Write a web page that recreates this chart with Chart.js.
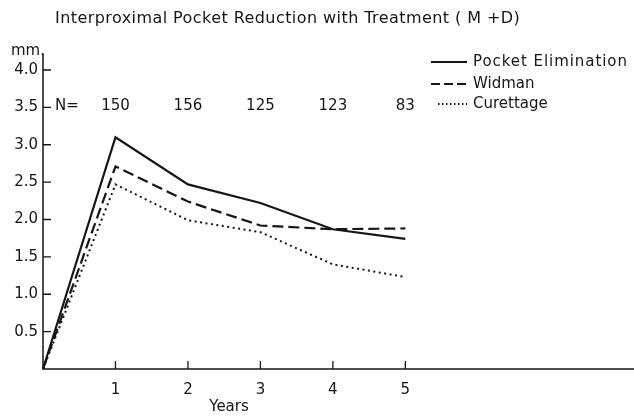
<!DOCTYPE html>
<html>
<head>
<meta charset="utf-8">
<script src="https://cdn.jsdelivr.net/npm/chart.js@4.4.0/dist/chart.umd.min.js"></script>
<style>
  html, body { margin: 0; padding: 0; background: #fff; }
  canvas { display: block; }
</style>
</head>
<body>
<canvas id="myChart" width="634" height="416"></canvas>
<script>
const years = [0, 1, 2, 3, 4, 5];
const pocketElimination = [0, 3.10, 2.47, 2.22, 1.87, 1.74];
const widman = [0, 2.71, 2.24, 1.92, 1.87, 1.88];
const curettage = [0, 2.47, 1.99, 1.83, 1.40, 1.23];
const sampleSizes = [150, 156, 125, 123, 83];
const seriesNames = ['Pocket Elimination', 'Widman', 'Curettage'];
const titleText = 'Interproximal Pocket Reduction with Treatment ( M +D)';

const INK = '#161616';
const FAMILY = "'DejaVu Sans', sans-serif";
const font = (size) => `${size}px ${FAMILY}`;

const toPoints = (values) => values.map((v, i) => ({ x: years[i], y: v }));

// estilos de línea: continua, rayas, puntos
const styles = [
    { width: 2.2, dash: [], legendDash: [] },
    { width: 2.2, dash: [11, 5], legendDash: [9, 4] },
    { width: 2, dash: [2, 3.5], legendDash: [1.5, 2.5] }
];

// texto estirado a un ancho dado (el original va muy espaciado)
const fitText = (c, text, x, y, width) => {
    c.letterSpacing = '0px';
    const w = c.measureText(text).width;
    const extra = Math.max(0, (width - w) / (text.length - 1));
    c.letterSpacing = extra.toFixed(2) + 'px';
    c.fillText(text, x, y);
    c.letterSpacing = '0px';
};

const decor = {
    id: 'decor',
    afterDraw(chart) {
        const c = chart.ctx;
        const { left, bottom } = chart.chartArea;
        const xs = chart.scales.x, ys = chart.scales.y;
        c.save();

        // ejes
        c.strokeStyle = INK;
        c.lineWidth = 1.5;
        c.beginPath();
        c.moveTo(left, 54);
        c.lineTo(left, bottom);
        c.lineTo(chart.width, bottom);
        c.stroke();

        // marcas hacia dentro
        c.lineWidth = 1.3;
        c.beginPath();
        for (let v = 0.5; v <= 4.0001; v += 0.5) {
            const py = ys.getPixelForValue(v);
            c.moveTo(left, py);
            c.lineTo(left + 8, py);
        }
        for (let i = 1; i < years.length; i++) {
            const px = xs.getPixelForValue(years[i]);
            c.moveTo(px, bottom);
            c.lineTo(px, bottom - 8);
        }
        c.stroke();

        c.fillStyle = INK;
        c.textBaseline = 'middle';
        c.textAlign = 'left';
        c.font = font(16);
        fitText(c, titleText, 55, 19, 465);

        c.font = font(15);
        c.fillText('mm.', 11, 51);

        c.textAlign = 'center';
        c.fillText('Years', 229, 407);

        // fila de N
        const ny = ys.getPixelForValue(3.5) - 1;
        c.textAlign = 'left';
        c.fillText('N=', 55, ny);
        c.textAlign = 'center';
        sampleSizes.forEach((n, i) => {
            c.fillText(String(n), xs.getPixelForValue(years[i + 1]), ny);
        });

        // leyenda
        const rows = [62, 84, 104];
        c.font = font(15);
        seriesNames.forEach((name, i) => {
            c.strokeStyle = INK;
            c.lineWidth = styles[i].width;
            c.setLineDash(styles[i].legendDash);
            c.beginPath();
            c.moveTo(i === 2 ? 438 : 431, rows[i]);
            c.lineTo(467, rows[i]);
            c.stroke();
            c.setLineDash([]);
            c.textAlign = 'left';
            if (i === 0) fitText(c, name, 473, rows[i], 154);
            else c.fillText(name, 473, rows[i]);
        });
        c.restore();
    }
};

const data = {
    datasets: [pocketElimination, widman, curettage].map((vals, i) => ({
        label: seriesNames[i],
        data: toPoints(vals),
        borderColor: INK,
        borderWidth: styles[i].width,
        borderDash: styles[i].dash,
        pointRadius: 0,
        tension: 0,
        fill: false,
        clip: false
    }))
};

new Chart(document.getElementById('myChart').getContext('2d'), {
    type: 'line',
    data,
    options: {
        responsive: false,
        animation: false,
        layout: { padding: { top: 70, right: 0, bottom: 0, left: 0 } },
        plugins: {
            legend: { display: false },
            title: { display: false },
            tooltip: { enabled: false }
        },
        scales: {
            x: {
                type: 'linear',
                min: 0,
                max: 8.1,
                grid: { display: false },
                border: { display: false },
                afterFit: (s) => { s.height = 47; },
                ticks: {
                    stepSize: 1,
                    autoSkip: false,
                    maxRotation: 0,
                    padding: 4,
                    color: INK,
                    font: { family: FAMILY, size: 15 },
                    callback: (v) => (v >= 1 && v <= 5 && Number.isInteger(v)) ? String(v) : ''
                }
            },
            y: {
                min: 0,
                max: 4,
                grid: { display: false, drawTicks: false },
                border: { display: false },
                afterFit: (s) => { s.width = 43; },
                ticks: {
                    stepSize: 0.5,
                    padding: 5,
                    color: INK,
                    font: { family: FAMILY, size: 15 },
                    callback: (v) => v === 0 ? '' : v.toFixed(1)
                }
            }
        }
    },
    plugins: [decor]
});
</script>
</body>
</html>
